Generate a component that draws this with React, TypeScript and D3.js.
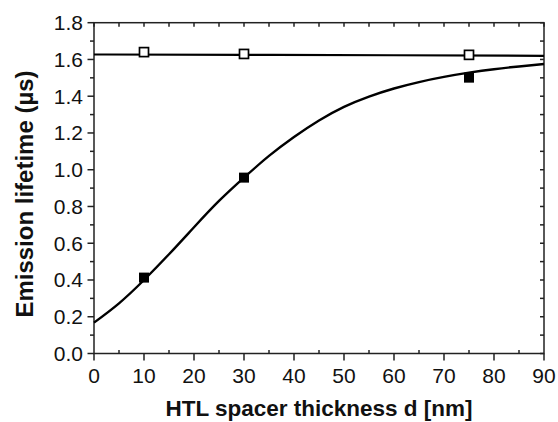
import React, { useEffect, useRef } from "react";
import * as d3 from "d3";

// measured points
const openX = [10, 30, 75];
const openY = [1.64, 1.63, 1.625];
const filledX = [10, 30, 75];
const filledY = [0.413, 0.957, 1.501];

// fitted curves, every 5 nm
const fitX = [0, 5, 10, 15, 20, 25, 30, 35, 40, 45, 50, 55, 60, 65, 70, 75, 80, 85, 90];
const fitY = [0.168, 0.273, 0.4, 0.54, 0.687, 0.83, 0.957, 1.075, 1.178, 1.268, 1.342, 1.398, 1.442, 1.477, 1.505, 1.528, 1.547, 1.562, 1.575];
const flatX = [0, 30, 60, 90];
const flatY = [1.627, 1.625, 1.623, 1.62];

const xTicks = [0, 10, 20, 30, 40, 50, 60, 70, 80, 90];
const yTicks = [0, 0.2, 0.4, 0.6, 0.8, 1.0, 1.2, 1.4, 1.6, 1.8];

const App = () => {
    const ref = useRef<SVGSVGElement>(null);

    useEffect(() => {
        const svg = d3.select(ref.current);
        svg.selectAll("*").remove();

        const left = 94, right = 544, top = 22.7, bottom = 353.5;
        const axisColor = "#222";
        const font = "'Liberation Sans', Arial, sans-serif";

        const x = d3.scaleLinear().domain([0, 90]).range([left, right]);
        const y = d3.scaleLinear().domain([0, 1.8]).range([bottom, top]);

        const g = svg.append("g");

        // frame
        g.append("rect")
            .attr("x", left).attr("y", top)
            .attr("width", right - left).attr("height", bottom - top)
            .attr("fill", "none").attr("stroke", axisColor).attr("stroke-width", 1.5);

        const minorX = d3.range(5, 90, 10);
        const allX = d3.range(0, 91, 5);
        const minorY = d3.range(0.1, 1.8, 0.2);
        const allY = d3.range(0, 1.81, 0.1);

        // bottom: majors out, minors in
        g.selectAll(".bmaj").data(xTicks).enter().append("line")
            .attr("x1", d => x(d)).attr("x2", d => x(d))
            .attr("y1", bottom).attr("y2", bottom + 7)
            .attr("stroke", axisColor).attr("stroke-width", 1.5);
        g.selectAll(".bmin").data(minorX).enter().append("line")
            .attr("x1", d => x(d)).attr("x2", d => x(d))
            .attr("y1", bottom).attr("y2", bottom - 3.5)
            .attr("stroke", axisColor).attr("stroke-width", 1.5);
        // top: all inward
        g.selectAll(".tt").data(allX).enter().append("line")
            .attr("x1", d => x(d)).attr("x2", d => x(d))
            .attr("y1", top).attr("y2", top + 4)
            .attr("stroke", axisColor).attr("stroke-width", 1.5);
        // left: out
        g.selectAll(".lmaj").data(yTicks).enter().append("line")
            .attr("x1", left).attr("x2", left - 6.5)
            .attr("y1", d => y(d)).attr("y2", d => y(d))
            .attr("stroke", axisColor).attr("stroke-width", 1.5);
        g.selectAll(".lmin").data(minorY).enter().append("line")
            .attr("x1", left).attr("x2", left - 4)
            .attr("y1", d => y(d)).attr("y2", d => y(d))
            .attr("stroke", axisColor).attr("stroke-width", 1.5);
        // right: inward
        g.selectAll(".rt").data(allY).enter().append("line")
            .attr("x1", right).attr("x2", right - 4)
            .attr("y1", d => y(d)).attr("y2", d => y(d))
            .attr("stroke", axisColor).attr("stroke-width", 1.5);

        // tick labels
        g.selectAll(".xl").data(xTicks).enter().append("text")
            .attr("x", d => x(d)).attr("y", bottom + 29.5)
            .attr("text-anchor", "middle")
            .attr("font-family", font).attr("font-size", 21)
            .attr("fill", "#111")
            .text(d => d);
        g.selectAll(".yl").data(yTicks).enter().append("text")
            .attr("x", left - 11).attr("y", d => y(d) + 7.4)
            .attr("text-anchor", "end")
            .attr("font-family", font).attr("font-size", 21)
            .attr("fill", "#111")
            .text(d => d3.format(".1f")(d));

        // titles
        g.append("text")
            .attr("x", (left + right) / 2).attr("y", 416)
            .attr("text-anchor", "middle")
            .attr("font-family", font).attr("font-size", 22.5).attr("font-weight", "bold")
            .attr("fill", "#111")
            .text("HTL spacer thickness d [nm]");
        g.append("text")
            .attr("transform", `translate(33,194) rotate(-90)`)
            .attr("text-anchor", "middle")
            .attr("font-family", font).attr("font-size", 24).attr("font-weight", "bold")
            .attr("fill", "#111")
            .text("Emission lifetime (µs)");

        const fitLine = d3.line<[number, number]>()
            .x(d => x(d[0])).y(d => y(d[1]))
            .curve(d3.curveNatural);

        g.append("path")
            .attr("d", fitLine(flatX.map((v, i) => [v, flatY[i]])))
            .attr("fill", "none").attr("stroke", "#000").attr("stroke-width", 2.2);
        g.append("path")
            .attr("d", fitLine(fitX.map((v, i) => [v, fitY[i]])))
            .attr("fill", "none").attr("stroke", "#000").attr("stroke-width", 2.4);

        // markers
        const s = 9;
        g.selectAll(".open").data(openX).enter().append("rect")
            .attr("x", d => x(d) - s / 2).attr("y", (d, i) => y(openY[i]) - s / 2)
            .attr("width", s).attr("height", s)
            .attr("fill", "#fff").attr("stroke", "#000").attr("stroke-width", 1.7);
        const f = 10;
        g.selectAll(".filled").data(filledX).enter().append("rect")
            .attr("x", d => x(d) - f / 2).attr("y", (d, i) => y(filledY[i]) - f / 2)
            .attr("width", f).attr("height", f)
            .attr("fill", "#000").attr("stroke", "none");
    }, []);

    return (
        <svg
            ref={ref}
            width={558}
            height={422}
            style={{ position: "absolute", left: 0, top: 0, background: "#fff" }}
        />
    );
};

export default App;
